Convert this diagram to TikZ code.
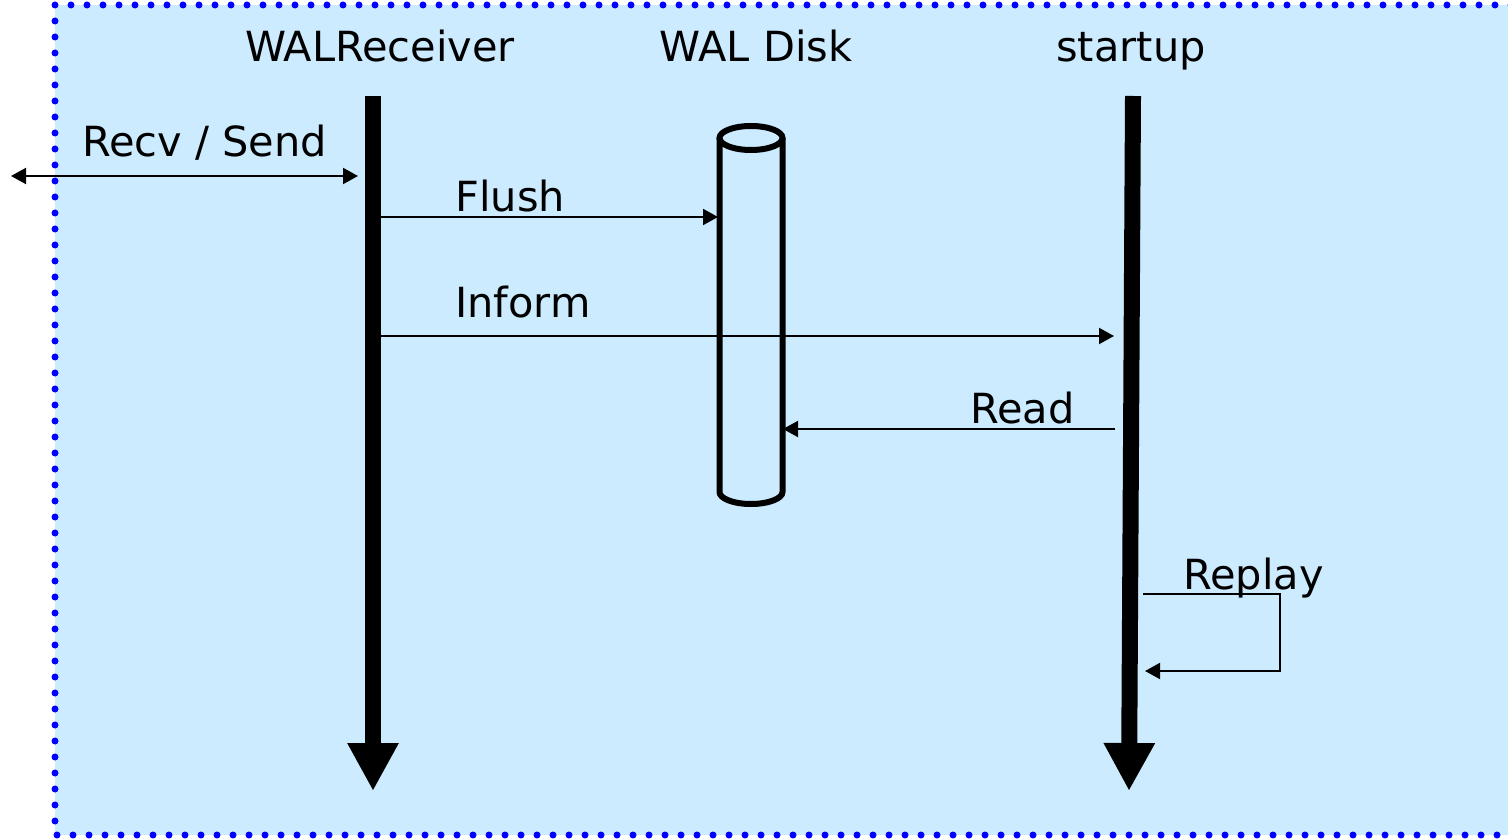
\documentclass[tikz,border=0pt]{standalone}
\usepackage{fontspec}
\setmainfont{DejaVu Sans}
\usetikzlibrary{calc,arrows.meta}
\definecolor{paneblue}{RGB}{204,235,255}
\definecolor{dotblue}{RGB}{0,0,255}
\tikzset{
  lbl/.style={inner sep=0pt,font=\fontsize{20.75}{24}\selectfont},
  life/.style={line width=8pt,-{Triangle[length=24pt,width=24pt]}},
  msg/.style={line width=1pt,-{Triangle[length=7.5pt,width=8pt]}},
}

\begin{document}
\begin{tikzpicture}[x=0.5pt,y=-0.5pt]
\clip (0,0) rectangle (1508,839);
\coordinate (P0) at (55,5);
\coordinate (P1) at (55,835);
  \fill[paneblue] (P0) rectangle ($(P1)+(1500,0)$);
  \draw[dotblue,line width=3.5pt,line cap=round,dash pattern=on 0pt off 8pt]
    (P0) -- ($(P0)+(1500,0)$) (P0) -- (P1) -- ($(P1)+(1500,0)$);
\coordinate (W0) at (373,96);
\coordinate (W1) at (373,791);
\coordinate (S0) at (1133,96);
\coordinate (S1) at (1129,791);
\coordinate (D0) at (751,138);
\coordinate (D1) at (751,492);
  \node[lbl,anchor=base] (WR) at ($(W0)+(7,-34)$) {WALReceiver};
  \node[lbl,anchor=base] (WD) at ($(D0)+(5,-76)$) {WAL Disk};
  \node[lbl,anchor=base] (ST) at ($(S0)+(-2,-34)$) {startup};
  \draw[life] (W0) -- (W1);
  \draw[life] (S0) -- (S1);
  % disk
  \draw[line width=3pt] (D0) ellipse [x radius=31.5,y radius=12];
  \draw[line width=3pt] ($(D0)+(-31.5,0)$) -- ($(D1)+(-31.5,0)$)
    arc[start angle=180,end angle=0,x radius=31.5,y radius=12] -- ($(D0)+(31.5,0)$);
  % messages
  \coordinate (N0) at (11,176);
  \coordinate (N1) at ($(W0)+(-15,80)$);
  \node[lbl,anchor=base west] (RS) at (82,157) {Recv / Send};
  \draw[line width=1pt,{Triangle[length=7.5pt,width=8pt]}-{Triangle[length=7.5pt,width=8pt]}] (N0) -- (N1);
  \coordinate (F0) at ($(W0)+(8,121)$);
  \coordinate (F1) at ($(D0)+(-33,79)$);
  \node[lbl,anchor=base west] (FL) at (455,212) {Flush};
  \draw[msg] (F0) -- (F1);
  \coordinate (I0) at ($(W0)+(8,240)$);
  \coordinate (I1) at ($(S0)+(-19,240)$);
  \node[lbl,anchor=base west] (IN) at (455,318) {Inform};
  \draw[msg] (I0) -- (I1);
  \coordinate (R0) at ($(S0)+(-18,333)$);
  \coordinate (R1) at ($(D0)+(32,291)$);
  \node[lbl,anchor=base east] (RD) at (1075,423) {Read};
  \draw[msg] (R0) -- (R1);
  \coordinate (L0) at (1143,594);
  \coordinate (L1) at (1280,671);
  \coordinate (L2) at (1145,671);
  \node[lbl,anchor=base west] (RP) at (1183,589) {Replay};
  \draw[msg] (L0) -| (L1) -- (L2);
\end{tikzpicture}
\end{document}
